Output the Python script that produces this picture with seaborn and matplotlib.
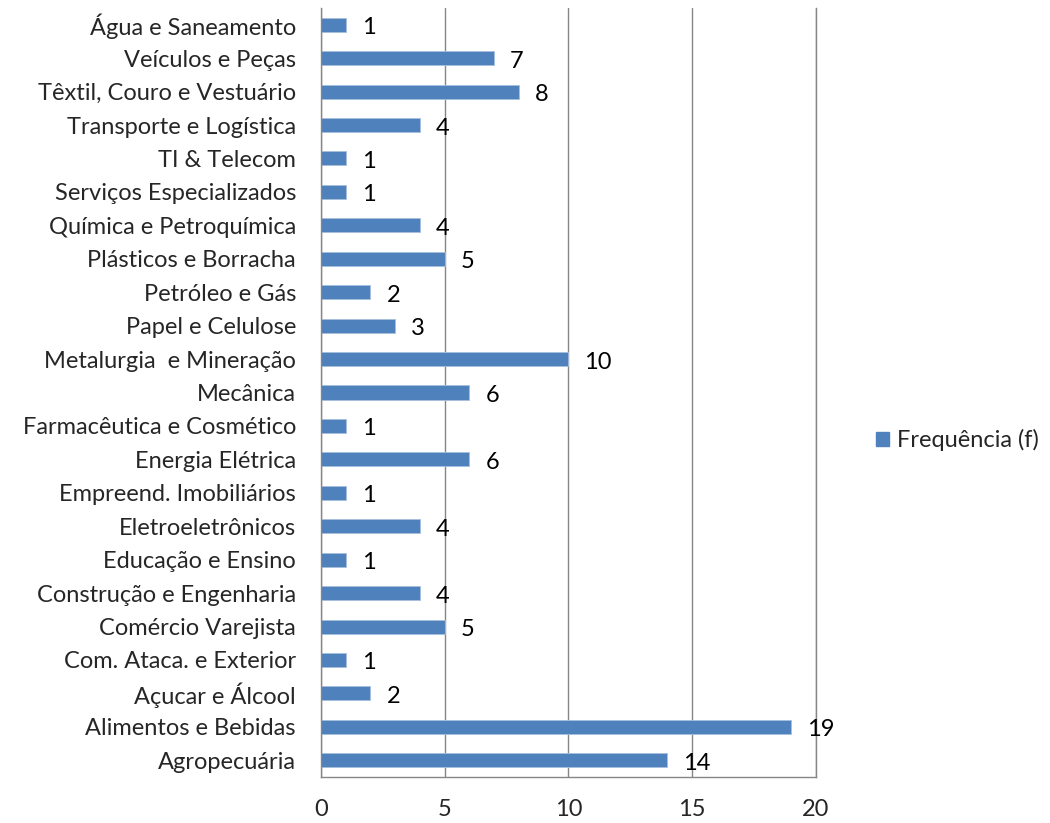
import matplotlib
matplotlib.use("Agg")
import matplotlib.pyplot as plt
import seaborn as sns
import pandas as pd
from matplotlib.ticker import FixedLocator
from matplotlib.patches import Patch

categories = [
    "Água e Saneamento", "Veículos e Peças", "Têxtil, Couro e Vestuário",
    "Transporte e Logística", "TI & Telecom", "Serviços Especializados",
    "Química e Petroquímica", "Plásticos e Borracha", "Petróleo e Gás",
    "Papel e Celulose", "Metalurgia  e Mineração", "Mecânica",
    "Farmacêutica e Cosmético", "Energia Elétrica", "Empreend. Imobiliários",
    "Eletroeletrônicos", "Educação e Ensino", "Construção e Engenharia",
    "Comércio Varejista", "Com. Ataca. e Exterior", "Açucar e Álcool",
    "Alimentos e Bebidas", "Agropecuária",
]
values = [1, 7, 8, 4, 1, 1, 4, 5, 2, 3, 10, 6, 1, 6, 1, 4, 1, 4, 5, 1, 2, 19, 14]
series_name = "Frequência (f)"
xticks = [0, 5, 10, 15, 20]

sns.set_style("white")
plt.rcParams["font.family"] = ["Lato", "DejaVu Sans"]
FS = 17

df = pd.DataFrame({"cat": categories, "val": values})
fig = plt.figure(figsize=(10.5, 8.23), dpi=100)
ax = fig.add_axes([0.3057, 0.0559, 0.7771 - 0.3057, 0.9903 - 0.0559])
color = "#4F81BD"
sns.barplot(data=df, x="val", y="cat", order=categories, color=color,
            width=0.42, ax=ax, saturation=1, edgecolor="#A7C0DE", linewidth=0.6)

ax.set_xlim(0, 20)
ax.set_ylim(len(categories) - 0.5, -0.5)
ax.set_xticks(xticks)
ax.set_xticklabels([str(t) for t in xticks], fontsize=FS)
ax.set_xlabel("")
ax.set_ylabel("")
ax.tick_params(axis="y", which="major", length=0, labelsize=FS, pad=18)
ax.yaxis.set_minor_locator(FixedLocator([i - 0.5 for i in range(len(categories) + 1)]))
ax.tick_params(axis="y", which="minor", length=6, direction="out", color="#868686", width=1)
ax.tick_params(axis="x", which="major", length=6, direction="out", color="#868686", width=1, pad=10)
ax.grid(axis="x", color="#868686", linewidth=1)
ax.set_axisbelow(True)
ax.spines["top"].set_visible(False)
for s in ["left", "bottom", "right"]:
    ax.spines[s].set_color("#868686")
    ax.spines[s].set_linewidth(1)

for i, v in enumerate(values):
    ax.annotate(str(v), xy=(v, i), xytext=(16, -3), textcoords="offset pixels",
                ha="left", va="center", fontsize=FS, color="black")

handle = Patch(facecolor=color, edgecolor=color)
fig.legend([handle], [series_name], loc="center left", bbox_to_anchor=(0.834, 0.465),
           frameon=False, fontsize=FS, handlelength=0.55, handleheight=0.55,
           handletextpad=0.35, borderpad=0, borderaxespad=0)

fig.savefig("out.png", dpi=100)
